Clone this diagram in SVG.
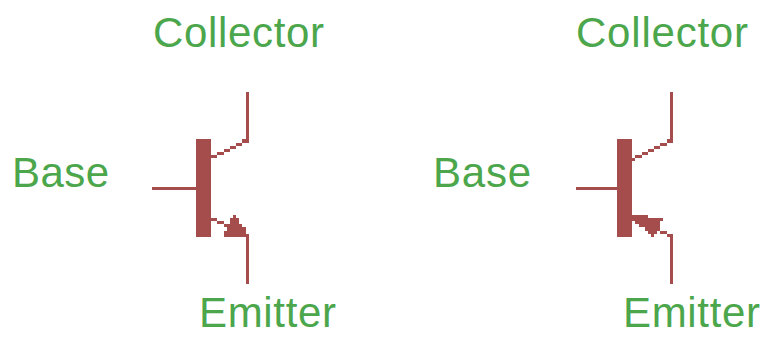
<svg xmlns="http://www.w3.org/2000/svg" width="766" height="337" viewBox="0 0 766 337">
<style>
.l{font-family:"Liberation Sans",Arial,sans-serif;font-size:42px;fill:#4ca64c}
.s{fill:#a54c4c;shape-rendering:crispEdges}
</style>
<rect width="766" height="337" fill="#ffffff"/>
<g id="connectors" class="s">
<path d="M152 187h44v3h-44z"/>
<path d="M246 92h3v51h-3zM242 139h7v4h-7zM236 143h6v3h-6zM230 146h6v3h-6zM224 149h6v3h-6zM217 152h7v3h-7zM211 155h6v3h-6z"/>
<path d="M211 218h6v3h-6zM217 221h7v3h-7zM224 224h6v3h-6zM246 234h3v50h-3z"/>
<path d="M576 187h41v3h-41z"/>
<path d="M670 92h3v51h-3zM667 139h6v4h-6zM660 143h7v3h-7zM654 146h6v3h-6zM648 149h6v3h-6zM642 152h6v3h-6zM635 155h7v3h-7zM632 158h3v3h-3z"/>
<path d="M660 231h7v3h-7zM667 234h6v3h-6zM670 234h3v50h-3z"/>
</g>
<g id="transistor-1">
<rect class="s" x="196" y="139" width="15" height="98"/>
<path class="s" d="M233 215h3v3h-3zM230 218h9v6h-9zM227 224h15v3h-15zM227 227h19v4h-19zM224 231h22v6h-22z"/>
</g>
<g id="transistor-2">
<rect class="s" x="617" y="139" width="15" height="98"/>
<path class="s" d="M632 215h16v3h-16zM632 218h31v3h-31zM635 221h25v3h-25zM639 224h21v3h-21zM645 227h15v4h-15zM648 231h9v3h-9zM651 234h3v3h-3z"/>
</g>
<g id="label-collector-1"><text class="l" x="153" y="47" textLength="171" lengthAdjust="spacing">Collector</text></g>
<g id="label-base-1"><text class="l" x="12" y="187" textLength="97" lengthAdjust="spacing">Base</text></g>
<g id="label-emitter-1"><text class="l" x="199" y="327" textLength="137" lengthAdjust="spacing">Emitter</text></g>
<g id="label-collector-2"><text class="l" x="576" y="47" textLength="172" lengthAdjust="spacing">Collector</text></g>
<g id="label-base-2"><text class="l" x="433" y="187" textLength="98" lengthAdjust="spacing">Base</text></g>
<g id="label-emitter-2"><text class="l" x="623" y="327" textLength="137" lengthAdjust="spacing">Emitter</text></g>
</svg>
